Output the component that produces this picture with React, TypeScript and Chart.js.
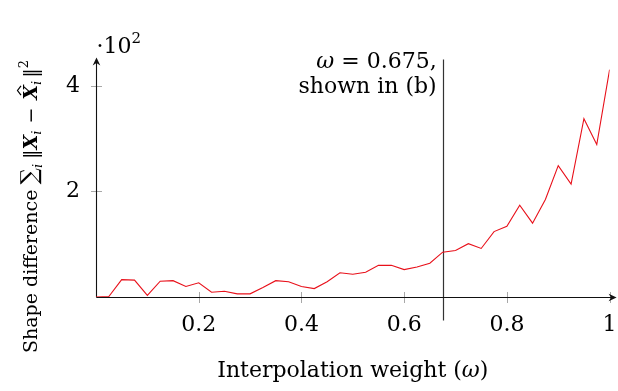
import React, { useEffect, useRef } from 'react';
import { Chart, registerables } from 'chart.js';

Chart.register(...registerables);

// ---- data ----
const weights = [
  0, 0.025, 0.05, 0.075, 0.1, 0.125, 0.15, 0.175, 0.2, 0.225,
  0.25, 0.275, 0.3, 0.325, 0.35, 0.375, 0.4, 0.425, 0.45, 0.475,
  0.5, 0.525, 0.55, 0.575, 0.6, 0.625, 0.65, 0.675, 0.7, 0.725,
  0.75, 0.775, 0.8, 0.825, 0.85, 0.875, 0.9, 0.925, 0.95, 0.975, 1,
];
const shapeDiff = [
  0.0, 0.01, 0.33, 0.32, 0.03, 0.3, 0.31, 0.2, 0.27, 0.09,
  0.11, 0.06, 0.06, 0.18, 0.31, 0.29, 0.2, 0.16, 0.29, 0.46,
  0.43, 0.47, 0.6, 0.6, 0.52, 0.57, 0.64, 0.85, 0.88, 1.01,
  0.92, 1.24, 1.34, 1.74, 1.4, 1.85, 2.49, 2.14, 3.38, 2.89, 4.31,
];
const xTickValues = [0.2, 0.4, 0.6, 0.8, 1];
const yTickValues = [2, 4];
const markerWeight = 0.675;
const markerLines = ['= 0.675,', 'shown in (b)'];
const xTitleText = 'Interpolation weight (';
const yTitleText = 'Shape difference';
const scaleLabel = '·10';

const F = '"DejaVu Serif"';

type Part = { text: string; font: string; gap?: number; dy?: number; hat?: boolean };

function measureParts(ctx: CanvasRenderingContext2D, parts: Part[]) {
  let w = 0;
  for (const p of parts) {
    ctx.font = p.font;
    w += (p.gap || 0) + ctx.measureText(p.text).width;
  }
  return w;
}

function drawParts(ctx: CanvasRenderingContext2D, parts: Part[], startX: number, baseY: number) {
  let cx = startX;
  for (const p of parts) {
    ctx.font = p.font;
    cx += p.gap || 0;
    ctx.fillText(p.text, cx, baseY + (p.dy || 0));
    const w = ctx.measureText(p.text).width;
    if (p.hat) {
      ctx.save();
      ctx.lineWidth = 1.2;
      ctx.strokeStyle = '#000';
      ctx.beginPath();
      ctx.moveTo(cx + w * 0.3, baseY - 16);
      ctx.lineTo(cx + w * 0.62, baseY - 19.5);
      ctx.lineTo(cx + w * 0.94, baseY - 16);
      ctx.stroke();
      ctx.restore();
    }
    cx += w;
  }
  return cx;
}

function line(ctx: CanvasRenderingContext2D, x1: number, y1: number, x2: number, y2: number) {
  ctx.beginPath();
  ctx.moveTo(x1, y1);
  ctx.lineTo(x2, y2);
  ctx.stroke();
}

const axesPlugin = {
  id: 'axesPlugin',
  beforeDatasetsDraw(chart: any) {
    const { ctx, chartArea, scales } = chart;
    const xs = scales.x;
    const ys = scales.y;
    const x0 = Math.round(xs.getPixelForValue(0)) + 0.5;
    const y0 = Math.round(ys.getPixelForValue(0)) + 0.5;
    ctx.save();
    // tick marks
    ctx.strokeStyle = '#a8a8a8';
    ctx.lineWidth = 1;
    xTickValues.forEach((v) => {
      const px = Math.round(xs.getPixelForValue(v)) + 0.5;
      line(ctx, px, y0 - 5.5, px, y0 + 5.5);
    });
    yTickValues.forEach((v) => {
      const py = Math.round(ys.getPixelForValue(v)) + 0.5;
      line(ctx, x0 - 5.5, py, x0 + 5.5, py);
    });
    // marker line
    const mx = Math.round(xs.getPixelForValue(markerWeight)) + 0.5;
    ctx.strokeStyle = '#333';
    ctx.lineWidth = 1.2;
    line(ctx, mx, chartArea.top, mx, y0 + 23);
    // axes
    ctx.strokeStyle = '#111';
    ctx.fillStyle = '#111';
    ctx.lineWidth = 1.1;
    const xEnd = chartArea.right + 7;
    line(ctx, x0, y0, xEnd - 2, y0);
    const yEnd = chartArea.top - 2;
    line(ctx, x0, y0, x0, yEnd + 2);
    // arrowheads
    ctx.beginPath();
    ctx.moveTo(xEnd, y0);
    ctx.lineTo(xEnd - 8, y0 - 3.8);
    ctx.lineTo(xEnd - 5.5, y0);
    ctx.lineTo(xEnd - 8, y0 + 3.8);
    ctx.closePath();
    ctx.fill();
    ctx.beginPath();
    ctx.moveTo(x0, yEnd);
    ctx.lineTo(x0 - 3.8, yEnd + 8);
    ctx.lineTo(x0, yEnd + 5.5);
    ctx.lineTo(x0 + 3.8, yEnd + 8);
    ctx.closePath();
    ctx.fill();
    ctx.restore();
  },
  afterDraw(chart: any) {
    const { ctx, chartArea, scales } = chart;
    const xs = scales.x;
    const x0 = xs.getPixelForValue(0);
    const mx = xs.getPixelForValue(markerWeight);
    ctx.save();
    ctx.fillStyle = '#000';
    ctx.textAlign = 'left';
    ctx.textBaseline = 'alphabetic';

    // scale label ·10^2
    drawParts(
      ctx,
      [
        { text: scaleLabel, font: `22px ${F}` },
        { text: '2', font: `15px ${F}`, dy: -10 },
      ],
      x0 + 0.5,
      53
    );

    // marker annotation
    const l1: Part[] = [
      { text: 'ω', font: `italic 22px ${F}` },
      { text: ' ' + markerLines[0], font: `22px ${F}` },
    ];
    const right = mx - 6;
    drawParts(ctx, l1, right - measureParts(ctx, l1), 68);
    const l2: Part[] = [{ text: markerLines[1], font: `22px ${F}` }];
    drawParts(ctx, l2, right - measureParts(ctx, l2), 93);

    // x title
    const xt: Part[] = [
      { text: xTitleText, font: `22px ${F}` },
      { text: 'ω', font: `italic 22px ${F}` },
      { text: ')', font: `22px ${F}` },
    ];
    const cxm = (chartArea.left + chartArea.right) / 2;
    drawParts(ctx, xt, cxm - measureParts(ctx, xt) / 2, 377);

    // y title (rotated)
    const yt: Part[] = [
      { text: yTitleText, font: `19px ${F}` },
      { text: '∑', font: `23px ${F}`, gap: 5 },
      { text: 'i', font: `italic 13px ${F}`, dy: 5 },
      { text: '‖', font: `19px ${F}`, gap: 5 },
      { text: 'X', font: `bold italic 19px ${F}` },
      { text: 'i', font: `italic 13px ${F}`, dy: 4 },
      { text: '−', font: `19px ${F}`, gap: 7 },
      { text: 'X', font: `bold italic 19px ${F}`, gap: 8, hat: true },
      { text: 'i', font: `italic 13px ${F}`, dy: 4 },
      { text: '‖', font: `19px ${F}`, gap: 3 },
      { text: '2', font: `13px ${F}`, dy: -9 },
    ];
    ctx.translate(37, 353);
    ctx.rotate(-Math.PI / 2);
    drawParts(ctx, yt, 0, 0);
    ctx.restore();
  },
};

export default function App() {
  const canvasRef = useRef<HTMLCanvasElement | null>(null);

  useEffect(() => {
    const canvas = canvasRef.current;
    if (!canvas) return;
    const chart = new Chart(canvas, {
      type: 'line',
      data: {
        datasets: [
          {
            data: weights.map((w, i) => ({ x: w, y: shapeDiff[i] })),
            borderColor: '#e8101a',
            borderWidth: 1.1,
            pointRadius: 0,
            tension: 0,
            fill: false,
          },
        ],
      },
      options: {
        animation: false,
        responsive: false,
        devicePixelRatio: 1,
        layout: { padding: { left: 0, top: 59.6, right: 8.4, bottom: 0 } },
        plugins: { legend: { display: false }, tooltip: { enabled: false } },
        scales: {
          x: {
            type: 'linear',
            min: 0,
            max: 1,
            grid: { display: false, drawTicks: false },
            border: { display: false },
            afterBuildTicks: (s: any) => {
              s.ticks = xTickValues.map((v) => ({ value: v }));
            },
            afterFit: (s: any) => {
              s.height = 94;
              s.paddingLeft = 0;
              s.paddingRight = 0;
            },
            ticks: {
              autoSkip: false,
              maxRotation: 0,
              padding: 15,
              color: '#000',
              font: { family: 'DejaVu Serif', size: 22 },
              callback: (v: any) => String(v),
            },
          },
          y: {
            type: 'linear',
            min: 0,
            max: 4.5,
            grid: { display: false, drawTicks: false },
            border: { display: false },
            afterBuildTicks: (s: any) => {
              s.ticks = yTickValues.map((v) => ({ value: v }));
            },
            afterFit: (s: any) => {
              s.width = 96;
              s.paddingTop = 0;
              s.paddingBottom = 0;
            },
            ticks: {
              autoSkip: false,
              padding: 16,
              color: '#000',
              font: { family: 'DejaVu Serif', size: 22 },
              callback: (v: any) => String(v),
            },
          },
        },
      },
      plugins: [axesPlugin],
    });
    return () => chart.destroy();
  }, []);

  return (
    <div style={{ position: 'absolute', left: 0, top: 0, width: 618, height: 391, background: '#fff' }}>
      <canvas ref={canvasRef} width={618} height={391} style={{ display: 'block' }} />
    </div>
  );
}
